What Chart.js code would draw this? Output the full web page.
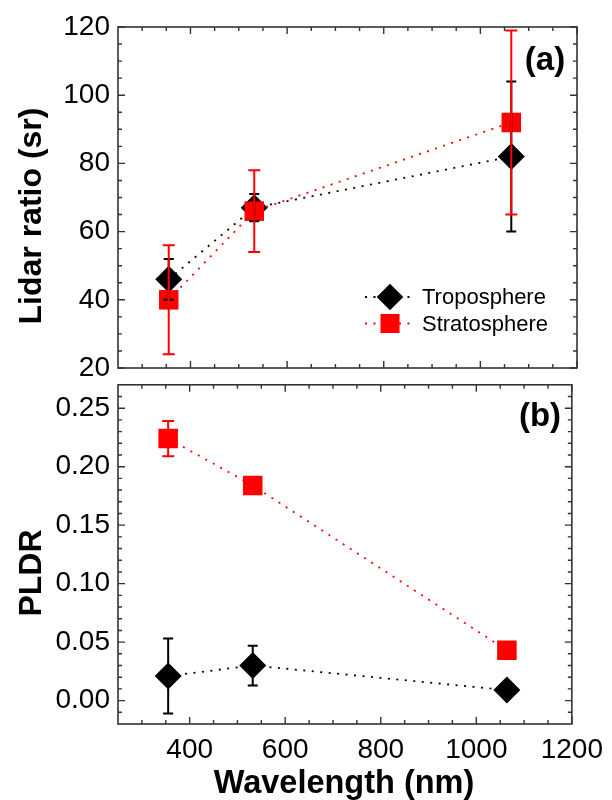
<!DOCTYPE html>
<html><head><meta charset="utf-8">
<script src="https://cdn.jsdelivr.net/npm/chart.js@4/dist/chart.umd.min.js"></script>
<style>
html,body{margin:0;padding:0;background:#fff;}
body{width:612px;height:800px;position:relative;overflow:hidden;}
canvas{position:absolute;left:0;}
#ca{top:0;}
#cb{top:360px;}
</style></head><body>
<canvas id="ca" width="612" height="400"></canvas>
<canvas id="cb" width="612" height="440"></canvas>
<script>
// ---------- data ----------
const wavelengths = [355, 532, 1064];
const seriesNames = ['Troposphere', 'Stratosphere'];
const troposphereLidarRatio = [46, 67, 82];
const troposphereLidarRatioErr = [6, 4, 22];
const stratosphereLidarRatio = [40, 66, 92];
const stratosphereLidarRatioErr = [16, 12, 27];
const tropospherePLDR = [0.021, 0.030, 0.009];
const tropospherePLDRErr = [0.032, 0.017, 0.003];
const stratospherePLDR = [0.224, 0.184, 0.043];
const stratospherePLDRErr = [0.015, 0.004, 0.004];
const xTicks = [400, 600, 800, 1000, 1200];
const xMinorTicks = [300, 350, 450, 500, 550, 650, 700, 750, 850, 900, 950, 1050, 1100, 1150];
const lidarTicks = [20, 40, 60, 80, 100, 120];
const lidarMinorTicks = [25, 30, 35, 45, 50, 55, 65, 70, 75, 85, 90, 95, 105, 110, 115];
const pldrTicks = [0.00, 0.05, 0.10, 0.15, 0.20, 0.25];
const pldrMinorTicks = [-0.01, 0.01, 0.02, 0.03, 0.04, 0.06, 0.07, 0.08, 0.09, 0.11, 0.12, 0.13, 0.14,
  0.16, 0.17, 0.18, 0.19, 0.21, 0.22, 0.23, 0.24, 0.26];

const BLACK = '#000000', RED = '#ff0000', FRAME = '#333333';
const FONT = '"Liberation Sans", Arial, sans-serif';

function pts(ys) { return wavelengths.map((w, i) => ({x: w, y: ys[i]})); }

function drawMarker(ctx, style, x, y, r, color) {
  ctx.save(); ctx.fillStyle = color; ctx.beginPath();
  if (style === 'rectRot') {
    ctx.moveTo(x, y - r); ctx.lineTo(x + r, y); ctx.lineTo(x, y + r); ctx.lineTo(x - r, y);
  } else {
    const s = r * Math.SQRT1_2; ctx.rect(x - s, y - s, 2 * s, 2 * s);
  }
  ctx.closePath(); ctx.fill(); ctx.restore();
}

function makeDatasets(tropo, strato) {
  return [
    {label: seriesNames[1], data: pts(strato), order: 0, borderColor: RED, backgroundColor: RED,
     borderWidth: 1.8, borderDash: [2, 6.5], pointStyle: 'rect', pointRadius: 13.8, pointBorderWidth: 0,
     pointBackgroundColor: RED, showLine: true, tension: 0},
    {label: seriesNames[0], data: pts(tropo), order: 1, borderColor: BLACK, backgroundColor: BLACK,
     borderWidth: 1.8, borderDash: [2, 6.5], pointStyle: 'rectRot', pointRadius: 13.5, pointBorderWidth: 0,
     pointBackgroundColor: BLACK, showLine: true, tension: 0}
  ];
}

function panelPlugin(cfg) {
  return {
    id: 'panel' + cfg.tag,
    afterDatasetsDraw(chart) {
      const ctx = chart.ctx, xs = chart.scales.x, ys = chart.scales.y;
      cfg.errors.forEach(e => {
        ctx.save(); ctx.strokeStyle = e.color; ctx.lineWidth = 2;
        wavelengths.forEach((w, i) => {
          const px = xs.getPixelForValue(w);
          const top = ys.getPixelForValue(e.values[i] + e.err[i]);
          const bot = ys.getPixelForValue(e.values[i] - e.err[i]);
          ctx.beginPath();
          ctx.moveTo(px, top); ctx.lineTo(px, bot);
          ctx.moveTo(px - e.cap, top); ctx.lineTo(px + e.cap, top);
          ctx.moveTo(px - e.cap, bot); ctx.lineTo(px + e.cap, bot);
          ctx.stroke();
        });
        ctx.restore();
      });
    },
    afterDraw(chart) {
      const ctx = chart.ctx, a = chart.chartArea, xs = chart.scales.x, ys = chart.scales.y;
      ctx.save();
      ctx.strokeStyle = FRAME; ctx.lineWidth = 1.6;
      ctx.strokeRect(a.left, a.top, a.right - a.left, a.bottom - a.top);
      ctx.lineWidth = 1.4;
      ctx.beginPath();
      const xt = (v, len) => { const p = xs.getPixelForValue(v);
        ctx.moveTo(p, a.bottom); ctx.lineTo(p, a.bottom - len);
        ctx.moveTo(p, a.top); ctx.lineTo(p, a.top + len); };
      const yt = (v, len) => { const p = ys.getPixelForValue(v);
        ctx.moveTo(a.left, p); ctx.lineTo(a.left + len, p);
        ctx.moveTo(a.right, p); ctx.lineTo(a.right - len, p); };
      xTicks.forEach(v => xt(v, 7)); xMinorTicks.forEach(v => xt(v, 4));
      cfg.yMajor.forEach(v => yt(v, 7)); cfg.yMinor.forEach(v => yt(v, 4));
      ctx.stroke();
      // panel tag
      ctx.fillStyle = '#000';
      ctx.font = 'bold 33px ' + FONT;
      ctx.textAlign = 'center'; ctx.textBaseline = 'middle';
      ctx.fillText(cfg.tagText, cfg.tagX, cfg.tagY);
      // y title
      ctx.save();
      ctx.translate(41, cfg.yTitleY); ctx.rotate(-Math.PI / 2);
      ctx.textAlign = 'center'; ctx.textBaseline = 'alphabetic';
      ctx.font = 'bold 32px ' + FONT;
      ctx.fillText(cfg.yTitle, 0, 0);
      ctx.restore();
      if (cfg.xTitle) {
        ctx.font = 'bold 32.5px ' + FONT;
        ctx.textAlign = 'center'; ctx.textBaseline = 'alphabetic';
        ctx.fillText(cfg.xTitle, 344, cfg.xTitleY);
      }
      if (cfg.legend) {
        const L = cfg.legend;
        L.rows.forEach(r => {
          ctx.save();
          ctx.strokeStyle = r.color; ctx.lineWidth = 1.8; ctx.setLineDash([2, 6.5]);
          ctx.beginPath(); ctx.moveTo(L.x0, r.y); ctx.lineTo(L.x1, r.y); ctx.stroke();
          ctx.restore();
          drawMarker(ctx, r.style, L.mx, r.y, r.r, r.color);
          ctx.fillStyle = '#000'; ctx.font = '22px ' + FONT;
          ctx.textAlign = 'left'; ctx.textBaseline = 'middle';
          ctx.fillText(r.text, L.tx, r.y + 1);
        });
      }
      ctx.restore();
    }
  };
}

function baseOptions(yMin, yMax, yTickList, xDisplay, padding, yFmt) {
  return {
    responsive: false, animation: false, devicePixelRatio: 1,
    layout: {padding: padding},
    plugins: {legend: {display: false}, tooltip: {enabled: false}},
    scales: {
      x: {type: 'linear', min: 250, max: 1200, display: xDisplay,
          grid: {display: false, drawTicks: false}, border: {display: false},
          afterBuildTicks: s => { s.ticks = xTicks.map(v => ({value: v})); },
          afterFit: s => { s.height = xDisplay ? 76 : 0; },
          ticks: {color: '#000', padding: 9, font: {family: FONT, size: 28}, maxRotation: 0,
                  callback: v => String(v)}},
      y: {type: 'linear', min: yMin, max: yMax,
          grid: {display: false, drawTicks: false}, border: {display: false},
          afterBuildTicks: s => { s.ticks = yTickList.map(v => ({value: v})); },
          afterFit: s => { s.width = 118; },
          ticks: {color: '#000', padding: 8, font: {family: FONT, size: 28}, callback: yFmt}}
    }
  };
}

new Chart(document.getElementById('ca'), {
  type: 'line',
  data: {datasets: makeDatasets(troposphereLidarRatio, stratosphereLidarRatio)},
  options: baseOptions(20, 120, lidarTicks, false, {left: 0, right: 35, top: 27, bottom: 32}, v => String(v)),
  plugins: [panelPlugin({
    tag: 'a', tagText: '(a)', tagX: 545, tagY: 61,
    yTitle: 'Lidar ratio (sr)', yTitleY: 216,
    yMajor: lidarTicks, yMinor: lidarMinorTicks,
    errors: [
      {color: BLACK, values: troposphereLidarRatio, err: troposphereLidarRatioErr, cap: 5},
      {color: RED, values: stratosphereLidarRatio, err: stratosphereLidarRatioErr, cap: 6}
    ],
    legend: {x0: 365, x1: 414, mx: 390, tx: 422, rows: [
      {text: seriesNames[0], color: BLACK, style: 'rectRot', r: 13.3, y: 297},
      {text: seriesNames[1], color: RED, style: 'rect', r: 13.5, y: 323.5}
    ]}
  })]
});

new Chart(document.getElementById('cb'), {
  type: 'line',
  data: {datasets: makeDatasets(tropospherePLDR, stratospherePLDR)},
  options: baseOptions(-0.02, 0.27, pldrTicks, true, {left: 0, right: 35, top: 23, bottom: 0}, v => v.toFixed(2)),
  plugins: [panelPlugin({
    tag: 'b', tagText: '(b)', tagX: 540, tagY: 57,
    yTitle: 'PLDR', yTitleY: 213,
    yMajor: pldrTicks, yMinor: pldrMinorTicks,
    errors: [
      {color: BLACK, values: tropospherePLDR, err: tropospherePLDRErr, cap: 5},
      {color: RED, values: stratospherePLDR, err: stratospherePLDRErr, cap: 6}
    ],
    xTitle: 'Wavelength (nm)', xTitleY: 433
  })]
});
</script>
</body></html>
